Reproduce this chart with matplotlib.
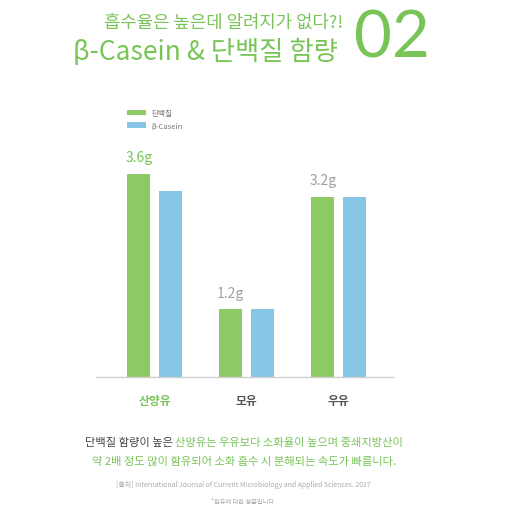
import matplotlib
matplotlib.use("Agg")
import matplotlib.pyplot as plt
import numpy as np

plt.rcParams['font.family'] = ['Noto Sans CJK KR', 'DejaVu Sans']

categories = ["산양유", "모유", "우유"]
protein = [3.6, 1.2, 3.2]
casein = [3.3, 1.2, 3.2]
value_labels = ["3.6g", "1.2g", "3.2g"]
series_names = ["단백질", "β-Casein"]

GREEN = "#8DC965"
BLUE = "#88C6E6"
TGREEN = "#78C457"
GRAY = "#a0a0a0"

fig = plt.figure(figsize=(5.1, 5.1), dpi=100)
ax = fig.add_axes([96/510, 132/510, (393-96)/510, 238/510])

x = np.arange(len(categories))
w = 0.247
off = 0.174
ax.bar(x - off, protein, w, color=GREEN, label=series_names[0])
ax.bar(x + off, casein, w, color=BLUE, label=series_names[1])

ax.set_xlim(-0.64, 2.59)
ax.set_ylim(0, 4.22)
for s in ["top", "right", "left"]:
    ax.spines[s].set_visible(False)
ax.spines["bottom"].set_color("#d0d0d0")
ax.spines["bottom"].set_linewidth(1.0)
ax.set_yticks([])
ax.set_xticks(x)
ax.set_xticklabels(categories)
ax.tick_params(axis='x', length=0, pad=12, labelsize=8.5)
for i, t in enumerate(ax.get_xticklabels()):
    t.set_fontweight('bold')
    t.set_color(TGREEN if i == 0 else "#555555")

for i, (xi, v) in enumerate(zip(x - off, protein)):
    ax.annotate(value_labels[i], (xi, v), xytext=(0, 7), textcoords='offset points',
                ha='center', va='bottom', fontsize=10,
                color=TGREEN if i == 0 else GRAY)

leg = ax.legend(loc='upper left', bbox_to_anchor=(0.08, 1.155), frameon=False,
                fontsize=5.5, handlelength=2.6, handletextpad=0.6, labelspacing=0.6)
for line in leg.get_lines():
    line.set_linewidth(3)
for t in leg.get_texts():
    t.set_color("#777777")

# Title
fig.text(343/510, 1 - 23/510, "흡수율은 높은데 알려지가 없다?!", ha='right', va='center',
         fontsize=12.8, color=TGREEN)
fig.text(338/510, 1 - 52/510, "β-Casein & 단백질 함량", ha='right', va='center',
         fontsize=19, color=TGREEN)
fig.text(354/510, 1 - 39/510, "02", ha='left', va='center', fontsize=47,
         color=TGREEN, family=['Lato', 'DejaVu Sans'])

# Description with mixed colors
fs = 8.1
part1 = "단백질 함량이 높은 "
part2 = "산양유는 우유보다 소화율이 높으며 중쇄지방산이"
fig.canvas.draw()
r = fig.canvas.get_renderer()
tmp1 = fig.text(0, 0, part1, fontsize=fs)
tmp2 = fig.text(0, 0, part2, fontsize=fs)
w1 = tmp1.get_window_extent(r).width / 510
w2 = tmp2.get_window_extent(r).width / 510
tmp1.remove(); tmp2.remove()
start = 244/510 - (w1 + w2) / 2
y1 = 1 - 443/510
fig.text(start, y1, part1, fontsize=fs, color="#444444", ha='left', va='center')
fig.text(start + w1, y1, part2, fontsize=fs, color=TGREEN, ha='left', va='center')
fig.text(244/510, 1 - 462/510, "약 2배 정도 많이 함유되어 소화 흡수 시 분해되는 속도가 빠릅니다.",
         fontsize=fs, color=TGREEN, ha='center', va='center')
fig.text(243/510, 1 - 485/510,
         "[출처] International Journal of Current Microbiology and Applied Sciences. 2017",
         fontsize=5, color="#aaaaaa", ha='center', va='center')
fig.text(243/510, 1 - 502/510, "*원유에 대한 성분입니다", fontsize=4.5, color="#aaaaaa",
         ha='center', va='center')

fig.savefig("out.png", dpi=100)
